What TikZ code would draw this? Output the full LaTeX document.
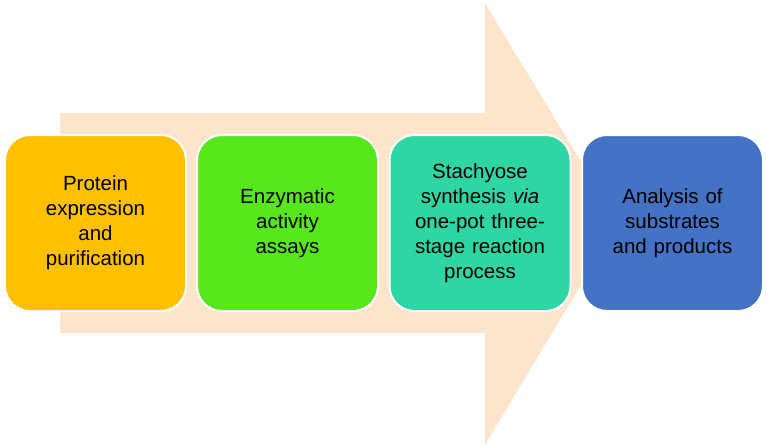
\documentclass[tikz,border=0pt]{standalone}
\usepackage{fontspec}
\setmainfont{Liberation Sans}
\begin{document}
\begin{tikzpicture}[x=1pt,y=-1pt,
  stagebox/.style={draw=white,line width=2pt,rounded corners=25pt,minimum width=181pt,minimum height=176pt,align=center,text width=160pt,font=\fontsize{20.5}{25}\selectfont,inner sep=0pt}]
\useasboundingbox (0,0) rectangle (766,447);
\definecolor{arrowc}{HTML}{FDE5CC}
\fill[arrowc] (60,113) -- (485,113) -- (485,3) -- (618,223) -- (485,445) -- (485,333) -- (60,333) -- cycle;
\node[stagebox,fill={rgb,255:red,255;green,192;blue,0}] (a) at (95.5,223) {Protein\\expression\\and\\purification};
\node[stagebox,fill={rgb,255:red,86;green,232;blue,28}] (b) at (287.5,223) {Enzymatic\\activity\\assays};
\node[stagebox,fill={rgb,255:red,46;green,214;blue,163}] (c) at (480,223) {Stachyose\\synthesis \textit{via}\\one-pot three-\\stage reaction\\process};
\node[stagebox,fill={rgb,255:red,68;green,114;blue,196}] (d) at (672.5,223) {Analysis of\\substrates\\and products};
\end{tikzpicture}
\end{document}
